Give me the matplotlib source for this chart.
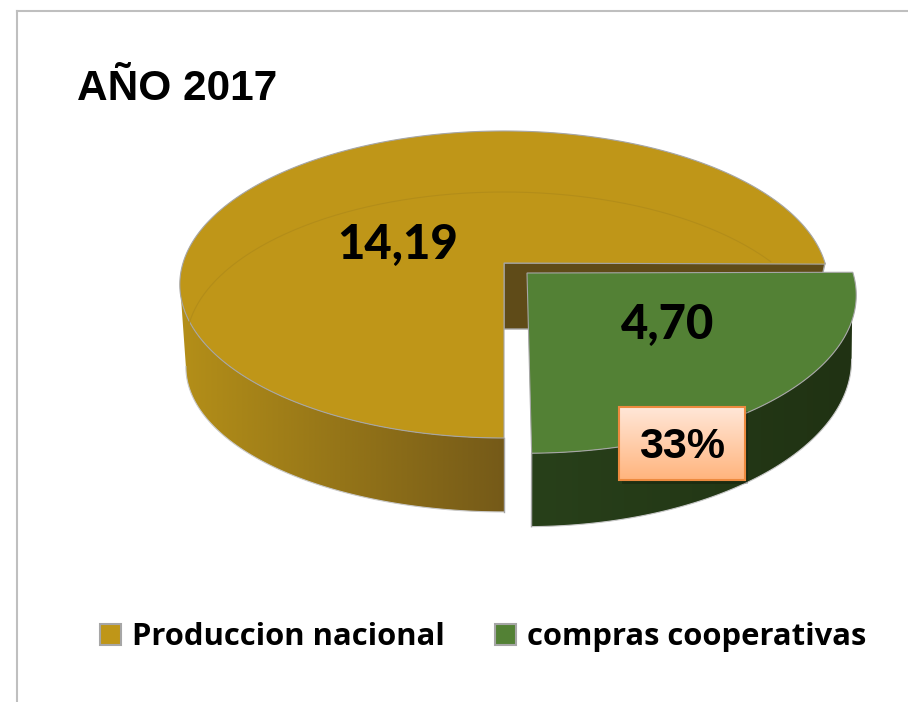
import numpy as np
import matplotlib
matplotlib.use("Agg")
import matplotlib.pyplot as plt
from matplotlib.colors import LinearSegmentedColormap
from matplotlib.patches import Patch, Polygon, Rectangle

# datos del grafico
titulo = "AÑO 2017"
categorias = ["Produccion nacional", "compras cooperativas"]
valores = [14.19, 4.70]
porcentaje = "33%"

total = sum(valores)
barrido_verde = 360 * valores[1] / total
corte = 90  # el corte entre las dos porciones cae abajo
inicio_verde = corte - barrido_verde
giro_verde = 0.7  # la porcion separada queda un poco girada

dorado, dorado_pared = "#BF9618", "#5F4B18"
verde = "#538135"
borde = "#A6A6A6"


def proyectar(theta, ax0, ay0, rx, ry, k):
    # circulo visto con perspectiva, theta en grados en sentido horario desde el este
    t = np.radians(theta)
    u, v = np.cos(t), np.sin(t)
    w = 1 - k * v
    return np.column_stack([ax0 + rx * u / w, ay0 + ry * v / w])


def rellenar_gradiente(ax, pts, c1, c2, vertical=False, zorder=2):
    cmap = LinearSegmentedColormap.from_list("g", [c1, c2])
    x0, x1 = pts[:, 0].min(), pts[:, 0].max()
    y0, y1 = pts[:, 1].min(), pts[:, 1].max()
    grad = np.linspace(0, 1, 256).reshape(-1, 1) if vertical else np.linspace(0, 1, 256).reshape(1, -1)
    im = ax.imshow(grad, cmap=cmap, extent=[x0, x1, y1, y0], aspect="auto", zorder=zorder)
    clip = Polygon(pts, closed=True, transform=ax.transData, fc="none", ec="none")
    ax.add_patch(clip)
    im.set_clip_path(clip)


fig = plt.figure(figsize=(9.08, 7.02), dpi=100)
ax = fig.add_axes([0, 0, 1, 1])

# porcion dorada
oro_sup = (504, 263, 321, 150.5, 0.14)
oro_inf = (504, 329, 307, 135, 0.262)
th_oro = np.linspace(corte, inicio_verde + 360, 300)

# pared interior, detras del verde
pared = np.vstack([[oro_sup[:2]], proyectar(np.array([0.0]), *oro_sup),
                   proyectar(np.array([0.0]), *oro_inf), [oro_inf[:2]]])
ax.add_patch(Polygon(pared, closed=True, fc=dorado_pared, ec=borde, lw=1, zorder=2))

# lateral dorado
lado = np.vstack([proyectar(np.linspace(corte, 173, 100), *oro_sup),
                  proyectar(np.linspace(165, corte, 100), *oro_inf)])
rellenar_gradiente(ax, lado, "#B48F18", "#755A18")
ax.plot(lado[100:, 0], lado[100:, 1], color="#C9C9C9", lw=0.8, zorder=3)
ax.plot([lado[0, 0], lado[-1, 0]], [lado[0, 1], lado[-1, 1]], color=borde, lw=1, zorder=3)

# cara superior dorada
cara = np.vstack([[oro_sup[:2]], proyectar(th_oro, *oro_sup)])
ax.add_patch(Polygon(cara, closed=True, fc=dorado, ec=borde, lw=0.8, zorder=4))

# aro tenue, el fondo visto a traves de la cara
t = np.radians(np.linspace(177, 327, 200))
ax.plot(504 + 318 * np.cos(t), 345 + 153 * np.sin(t), color="#B38D18", lw=0.8, zorder=5)

# porcion verde, separada
ver_sup = (527, 273, 326, 155, 0.14)
ver_inf = (527, 339, 322, 164, 0.126)
th_ver = np.linspace(inicio_verde - giro_verde, corte - giro_verde, 150)

lado_v = np.vstack([proyectar(np.linspace(corte - giro_verde, 17, 100), *ver_sup),
                    proyectar(np.linspace(7, corte - giro_verde, 100), *ver_inf)])
rellenar_gradiente(ax, lado_v, "#28401A", "#203213", zorder=6)
ax.plot(lado_v[100:, 0], lado_v[100:, 1], color="#C9C9C9", lw=0.8, zorder=7)
ax.plot([lado_v[0, 0], lado_v[-1, 0]], [lado_v[0, 1], lado_v[-1, 1]], color=borde, lw=1, zorder=7)

cara_v = np.vstack([[ver_sup[:2]], proyectar(th_ver, *ver_sup)])
ax.add_patch(Polygon(cara_v, closed=True, fc=verde, ec=borde, lw=0.8, zorder=8))

# etiquetas de valor
fuente = dict(family="Lato", fontweight="black", color="black", ha="center", va="center", zorder=9)
ax.text(398, 245, f"{valores[0]:.2f}".replace(".", ","), fontsize=34, **fuente)
ax.text(668, 325, f"{valores[1]:.2f}".replace(".", ","), fontsize=34, **fuente)

# caja del porcentaje
caja = np.array([[619, 407], [745, 407], [745, 480], [619, 480]])
ax.add_patch(Rectangle((622, 411), 126, 73, fc="black", ec="none", alpha=0.2, zorder=9))
rellenar_gradiente(ax, caja, "#FFE7D8", "#FFB47D", vertical=True, zorder=10)
ax.add_patch(Polygon(caja, closed=True, fc="none", ec="#ED8A3F", lw=1.5, zorder=11))
ax.text(682, 447, porcentaje, family="Liberation Sans", fontweight="bold", fontsize=31,
        ha="center", va="center", zorder=12)

# titulo
ax.text(77, 89, titulo, family="Liberation Sans", fontweight="bold", fontsize=30.5, va="center")

# marco gris
ax.plot([17, 17], [702, 11], color="#BFBFBF", lw=1.5, zorder=1)
ax.plot([17, 907], [11, 11], color="#BFBFBF", lw=1.5, zorder=1)

# leyenda
handles = [Patch(fc=dorado, ec=borde, lw=1.5), Patch(fc=verde, ec=borde, lw=1.5)]
ax.legend(handles, categorias, loc="center", bbox_to_anchor=(483, 637),
          bbox_transform=ax.transData, ncols=2, frameon=False,
          prop=dict(family="Open Sans", weight="bold", size=22.3),
          handlelength=0.68, handleheight=0.68, handletextpad=0.35, columnspacing=1.62)

ax.set_xlim(0, 908)
ax.set_ylim(702, 0)
ax.axis("off")

fig.savefig("out.png", dpi=100, facecolor="white")
